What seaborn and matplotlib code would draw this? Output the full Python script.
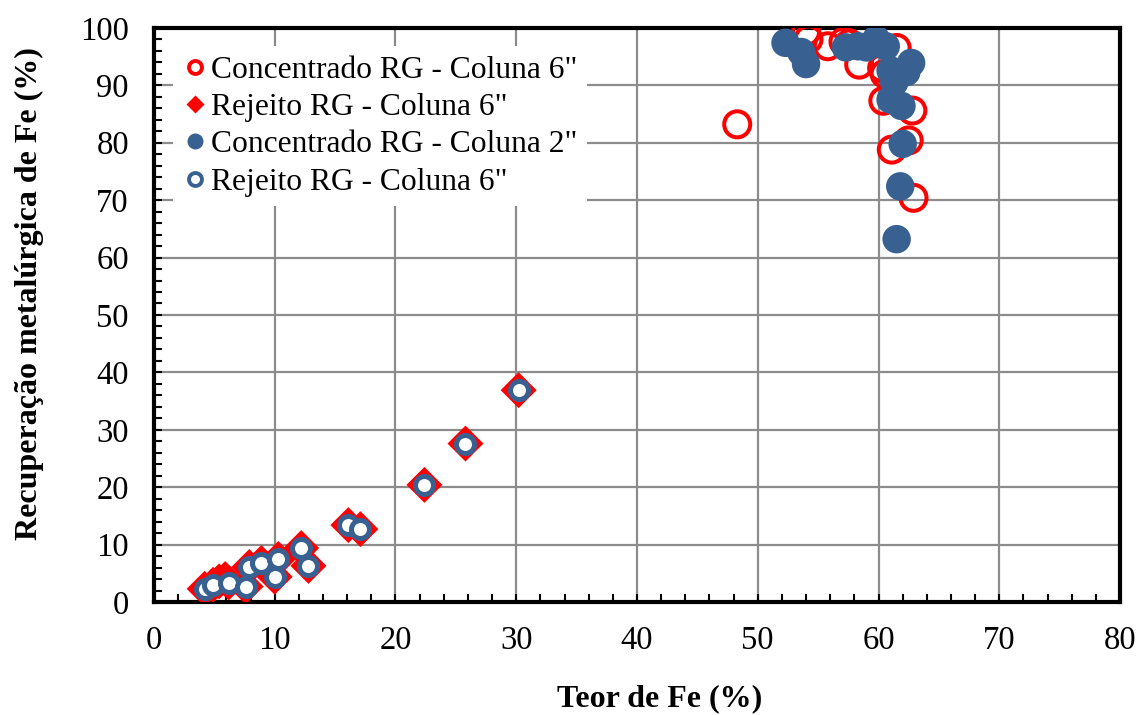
import matplotlib
matplotlib.use("Agg")
import matplotlib.pyplot as plt
from matplotlib.lines import Line2D
from matplotlib.ticker import MultipleLocator
import seaborn as sns
import pandas as pd

# ---- data ----
conc6_x = [48.3, 54.0, 54.2, 55.8, 57.1, 57.6, 58.4, 61.5, 60.3, 60.5, 60.4, 62.8, 61.1, 62.5, 62.9]
conc6_y = [83.2, 99.3, 98.0, 96.8, 97.6, 97.3, 93.6, 96.5, 93.0, 92.0, 87.3, 85.6, 78.8, 80.4, 70.4]

conc2_x = [52.3, 53.6, 54.0, 57.3, 58.3, 59.0, 59.8, 60.6, 62.7, 61.0, 61.3, 61.0, 61.9, 62.0, 61.8, 61.5, 62.3]
conc2_y = [97.4, 95.8, 93.7, 96.6, 96.8, 96.6, 98.0, 96.8, 93.9, 92.6, 90.5, 87.5, 86.4, 79.8, 72.4, 63.2, 92.3]

rej6_x = [4.2, 4.9, 6.2, 7.6, 7.9, 8.9, 10.3, 10.0, 12.2, 12.8, 16.1, 17.1, 22.4, 25.8, 30.2]
rej6_y = [2.3, 3.0, 3.4, 2.7, 6.1, 6.8, 7.5, 4.4, 9.4, 6.3, 13.4, 12.7, 20.4, 27.6, 36.9]

rejd_x = [4.2, 4.9, 5.4, 5.9, 6.2, 7.6, 7.9, 8.9, 10.3, 10.0, 12.2, 12.8, 16.1, 17.1, 22.4, 25.8, 30.2]
rejd_y = [2.3, 3.0, 3.6, 4.0, 3.4, 2.7, 6.1, 6.8, 7.5, 4.4, 9.4, 6.3, 13.4, 12.7, 20.4, 27.6, 36.9]

labels = ['Concentrado RG - Coluna 6"', 'Rejeito RG - Coluna 6"',
          'Concentrado RG - Coluna 2"', 'Rejeito RG - Coluna 6"']

x_label = "Teor de Fe (%)"
y_label = "Recuperação metalúrgica de Fe (%)"

RED = "#FF0000"
BLUE = "#386192"

sns.set_style("white")
plt.rcParams["font.family"] = ["Liberation Serif", "DejaVu Serif"]
plt.rcParams["text.color"] = "black"
plt.rcParams["axes.labelcolor"] = "black"
plt.rcParams["xtick.color"] = "black"
plt.rcParams["ytick.color"] = "black"

fig = plt.figure(figsize=(11.4, 7.15), dpi=100)
ax = fig.add_axes([0.135, 0.158, 0.8475, 0.803])

df_c6 = pd.DataFrame({"x": conc6_x, "y": conc6_y})
df_c2 = pd.DataFrame({"x": conc2_x, "y": conc2_y})
df_r6 = pd.DataFrame({"x": rej6_x, "y": rej6_y})
df_rd = pd.DataFrame({"x": rejd_x, "y": rejd_y})

sns.scatterplot(data=df_c6, x="x", y="y", ax=ax, marker="o", s=350,
                facecolor="none", edgecolor=RED, linewidth=2.9, zorder=3, legend=False)
sns.scatterplot(data=df_rd, x="x", y="y", ax=ax, marker="D", s=335,
                color=RED, edgecolor="none", linewidth=0, zorder=4, legend=False)
sns.scatterplot(data=df_c2, x="x", y="y", ax=ax, marker="o", s=420,
                color=BLUE, edgecolor="none", linewidth=0, zorder=5, legend=False)
sns.scatterplot(data=df_r6, x="x", y="y", ax=ax, marker="o", s=169,
                facecolor="white", edgecolor=BLUE, linewidth=3.6, zorder=6, legend=False)

ax.set_xlim(0, 80)
ax.set_ylim(0, 100)
ax.xaxis.set_major_locator(MultipleLocator(10))
ax.yaxis.set_major_locator(MultipleLocator(10))
ax.xaxis.set_minor_locator(MultipleLocator(2))
ax.yaxis.set_minor_locator(MultipleLocator(2))
ax.set_axisbelow(True)
ax.grid(True, which="major", color="#8c8c8c", linewidth=1.6)

for sp in ax.spines.values():
    sp.set_visible(True)
    sp.set_color("black")
    sp.set_linewidth(3)

ax.tick_params(which="both", direction="in", color="black", width=1.5,
               top=False, right=False, left=True, bottom=True)
ax.tick_params(which="major", length=6, labelsize=23.5, pad=18, labelcolor="black")
ax.tick_params(which="minor", length=6)
ax.tick_params(axis="x", which="major", pad=17)

ax.set_xlabel(x_label, fontsize=23, fontweight="bold", labelpad=20, color="black")
ax.set_ylabel(y_label, fontsize=23, fontweight="bold", labelpad=26, color="black")
ax.xaxis.label.set_x(0.523)
ax.yaxis.label.set_y(0.537)

handles = [
    Line2D([], [], linestyle="none", marker="o", markersize=9.3, markerfacecolor="white",
           markeredgecolor=RED, markeredgewidth=2.8),
    Line2D([], [], linestyle="none", marker="D", markersize=8.7, markerfacecolor=RED,
           markeredgecolor="none"),
    Line2D([], [], linestyle="none", marker="o", markersize=11.5, markerfacecolor=BLUE,
           markeredgecolor="none"),
    Line2D([], [], linestyle="none", marker="o", markersize=9.3, markerfacecolor="white",
           markeredgecolor=BLUE, markeredgewidth=2.8),
]
leg = ax.legend(handles, labels, loc="upper left", bbox_to_anchor=(0.020, 0.968),
                borderaxespad=0, borderpad=0.3, frameon=True, fancybox=False,
                facecolor="white", edgecolor="none", framealpha=1,
                fontsize=22.7, handlelength=0.8, handletextpad=0.1, labelspacing=0.26)
for t in leg.get_texts():
    t.set_color("black")
leg.set_zorder(10)

fig.savefig("out.png", dpi=100)
